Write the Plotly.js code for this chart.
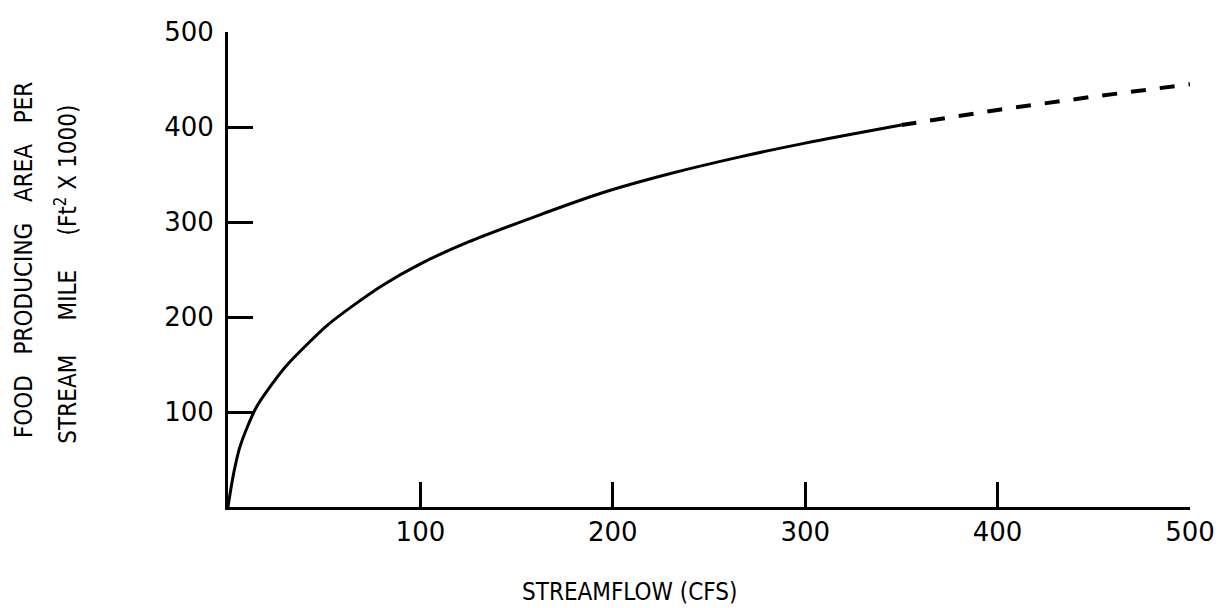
<!DOCTYPE html>
<html>
<head>
<meta charset="utf-8">
<script src="https://cdn.plot.ly/plotly-3.0.1.min.js"></script>
<style>html,body{margin:0;padding:0;background:#fff;}#chart{width:1229px;height:608px;}</style>
</head>
<body>
<div id="chart"></div>
<script>
// Measured curve (solid part)
const flowSolid = [0, 1, 3, 6, 10, 15, 22, 30, 40, 52, 65, 80, 100, 125, 160, 195, 230, 265, 300, 350];
const areaSolid = [0, 13, 36, 62, 84, 106, 127, 148, 169, 192, 212, 233, 256, 279, 306, 331, 351, 368, 383, 402];
// Extrapolated (dashed) part
const flowDashed = [350, 400, 450, 500];
const areaDashed = [402, 418, 432, 445];
// Ticks
const xTicks = [100, 200, 300, 400, 500];
const xTickText = ['100', '200', '300', '400', '500'];
const yTicks = [100, 200, 300, 400, 500];
const yTickText = ['100', '200', '300', '400', '500'];

const NB = '\u00A0';
const yTitle1 = ['FOOD', 'PRODUCING', 'AREA', 'PER'].join(NB + NB + NB);
const yTitle2 = ['STREAM', 'MILE', '(Ft<sup>2</sup>' + NB + 'X' + NB + '1000)'].join(NB + NB + NB + NB + NB);
const xTitle = 'STREAMFLOW' + NB + '(CFS)';

const traces = [
  {x: flowSolid, y: areaSolid, mode: 'lines', line: {color: '#000', width: 3, shape: 'spline', smoothing: 0.8}, hoverinfo: 'skip'},
  {x: flowDashed, y: areaDashed, mode: 'lines', line: {color: '#000', width: 4, dash: '15px,14px'}, hoverinfo: 'skip'}
];

const tickFont = {family: 'DejaVu Sans, sans-serif', size: 26, color: '#000'};
const titleFont = {family: 'DejaVu Sans Condensed, Liberation Sans Narrow, sans-serif', size: 24, color: '#000'};

const layout = {
  width: 1229, height: 608,
  margin: {l: 228, r: 39, t: 32, b: 101},
  paper_bgcolor: '#fff', plot_bgcolor: '#fff',
  showlegend: false,
  xaxis: {
    range: [0, 500], tickvals: xTicks, ticktext: xTickText,
    ticks: 'inside', ticklen: 25, tickwidth: 3, tickcolor: '#000',
    showline: true, linewidth: 3, linecolor: '#000',
    showgrid: false, zeroline: false, tickfont: tickFont, ticklabelstandoff: 0
  },
  yaxis: {
    range: [0, 500], tickvals: yTicks, ticktext: yTickText,
    ticks: 'inside', ticklen: 25, tickwidth: 3, tickcolor: '#000',
    showline: true, linewidth: 3, linecolor: '#000',
    showgrid: false, zeroline: false, tickfont: tickFont, ticklabelstandoff: 6
  },
  annotations: [
    {text: xTitle, xref: 'paper', yref: 'paper', x: 0.417, y: -0.179, xanchor: 'center', yanchor: 'middle', showarrow: false, font: titleFont},
    {text: yTitle1, xref: 'paper', yref: 'paper', x: -0.212, y: 0.52, xanchor: 'center', yanchor: 'middle', textangle: -90, showarrow: false, font: titleFont},
    {text: yTitle2, xref: 'paper', yref: 'paper', x: -0.168, y: 0.49, xanchor: 'center', yanchor: 'middle', textangle: -90, showarrow: false, font: titleFont}
  ]
};

Plotly.newPlot('chart', traces, layout, {displayModeBar: false, staticPlot: true});
</script>
</body>
</html>
